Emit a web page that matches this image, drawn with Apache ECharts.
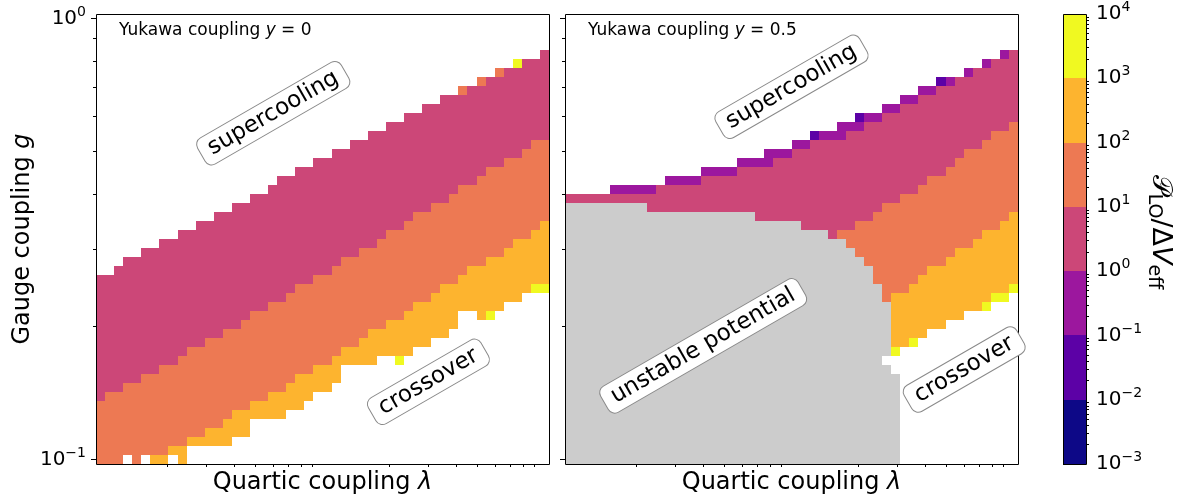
<!DOCTYPE html>
<html><head><meta charset="utf-8">
<script src="https://cdn.jsdelivr.net/npm/echarts@6/dist/echarts.min.js"></script>
<style>html,body{margin:0;padding:0;background:#fff}#c{width:1181px;height:499px}</style>
</head><body><div id="c"></div>
<script>
// ---------- scan grid (50 log-spaced points per axis) ----------
const lambdaRange = [1e-3, 1e-1];
const gRange = [0.1, 1];
const nLambda = 50, nG = 50;

// ---------- colour levels of P_LO / dV_eff ----------
const levelEdges = [1e-3, 1e-2, 1e-1, 1, 1e1, 1e2, 1e3, 1e4];
const levelColors = ['#0d0887', '#5c01a6', '#9c179e', '#cc4778', '#ed7953', '#fdb42f', '#f0f921'];
const unstableColor = '#cccccc';

// ---------- panel y = 0 : per lambda column, first row (0 = lowest g) of each band ----------
const L_lo   = [0,0,0,1,0,1,0,0,1,0, 2,2,2,2,2,3,3,5,5,5, 5,6,6,7,8,8,9,11,11,11, 11,12,12,12,12,13,13,14,14,15, 17,17,16,16,17,18,18,19,19,19];
const L_tOr  = [0,0,0,1,0,1,1,1,2,2, 3,3,4,4,5,6,6,7,7,8, 8,9,10,10,11,11,12,13,13,14, 15,15,16,16,17,18,18,19,20,20, 21,22,22,23,23,24,25,25,26,27];
const L_tMag = [7,8,8,9,9,10,10,11,11,12, 13,13,14,14,15,15,16,17,17,18, 18,19,20,20,21,21,22,23,23,24, 24,25,26,26,27,28,28,29,29,30, 31,31,32,33,33,34,34,35,36,36];
const L_hi   = [21,21,22,23,23,24,24,25,25,26, 26,27,27,28,28,29,29,30,30,31, 32,32,33,33,34,34,35,35,36,36, 37,37,38,38,39,39,40,40,41,41, 42,42,43,43,44,44,45,45,45,46];
const L_special = [[40,41,4],[42,42,4],[44,43,4],[46,44,6],[33,11,6],[43,16,6],[48,19,6],[49,19,6]];

// ---------- panel y = 0.5 ----------
const R_gray = [29,29,29,29,29,29,29,29,29,28, 28,28,28,28,28,28,28,28,28,28, 28,27,27,27,27,27,26,26,26,25, 25,24,23,22,20,18,10,0,0,0, 0,0,0,0,0,0,0,0,0,0];
const R_lo   = [29,29,29,29,29,29,29,29,29,28, 28,28,28,28,28,28,28,28,28,28, 28,27,27,27,27,27,26,26,26,25, 25,24,23,22,20,18,12,13,13,14, 15,15,16,16,17,17,17,18,18,19];
const R_tOr  = [29,29,29,29,29,29,29,29,29,28, 28,28,28,28,28,28,28,28,28,28, 28,27,27,27,27,27,26,26,26,25, 25,24,23,22,20,18,19,19,20,21, 22,22,23,24,24,25,26,26,27,28];
const R_tMag = [29,29,29,29,29,29,29,29,29,28, 28,28,28,28,28,28,28,28,28,28, 28,27,27,27,27,27,26,26,26,25, 26,26,27,27,28,29,29,30,30,31, 32,32,33,34,35,35,36,37,37,38];
const R_tPur = [30,30,30,30,30,30,30,30,30,30, 31,31,31,31,31,32,32,32,32,33, 33,33,33,34,34,35,35,36,36,36, 36,37,37,38,38,39,39,40,40,41, 41,42,42,43,43,44,44,45,45,46];
const R_hi   = [30,30,30,30,30,31,31,31,31,31, 31,32,32,32,32,33,33,33,33,34, 34,34,35,35,35,36,36,37,37,37, 38,38,39,39,39,40,40,41,41,42, 42,43,43,43,44,44,45,45,46,46];
const R_special = [[27,36,1],[32,38,1],[41,42,1],[36,12,6],[38,13,6],[46,17,6],[47,18,6],[48,18,6],[49,19,6],[35,11,-1]];

// ---------- ticks ----------
const xMinorTicks = [0.002,0.003,0.004,0.005,0.006,0.007,0.008,0.009,0.02,0.03,0.04,0.05,0.06,0.07,0.08,0.09];
const yMajorTicks = [0.1, 1];
const yMinorTicks = [0.2,0.3,0.4,0.5,0.6,0.7,0.8,0.9];
const cbarMajorTicks = [1e-3,1e-2,1e-1,1,1e1,1e2,1e3,1e4];
const minorMantissas = [2,3,4,5,6,7,8,9];

// ---------- annotations ----------
const panelTitles = ['Yukawa coupling {i|y} = 0', 'Yukawa coupling {i|y} = 0.5'];
const annoLeft  = [['supercooling', 0.0060, 0.61], ['crossover', 0.030, 0.150]];
const annoRight = [['supercooling', 0.0100, 0.70], ['unstable potential', 0.0040, 0.181], ['crossover', 0.060, 0.160]];

const F = 'DejaVu Sans';
const logEdge = (range, n, k) => {
  const a = Math.log10(range[0]), b = Math.log10(range[1]);
  const d = (b - a) / (n - 1);
  return Math.pow(10, a + (k - 0.5) * d);
};
const xMin = logEdge(lambdaRange, nLambda, 0), xMax = logEdge(lambdaRange, nLambda, nLambda);
const yMin = logEdge(gRange, nG, 0), yMax = logEdge(gRange, nG, nG);

function buildCells(p) {
  const cells = [];
  for (let i = 0; i < nLambda; i++) {
    const col = [];
    const gray = p.gray ? p.gray[i] : 0;
    const tPur = p.tPur ? p.tPur[i] : p.hi[i];
    for (let j = 0; j < nG; j++) {
      let v = -1;
      if (j < gray) v = 7;
      else if (j < p.lo[i]) v = -1;
      else if (j < p.tOr[i]) v = 5;
      else if (j < p.tMag[i]) v = 4;
      else if (j < tPur) v = 3;
      else if (j < p.hi[i]) v = 2;
      col.push(v);
    }
    p.special.forEach(s => { if (s[0] === i) col[s[1]] = s[2]; });
    let j = 0;
    while (j < nG) {
      if (col[j] < 0) { j++; continue; }
      let k = j;
      while (k + 1 < nG && col[k + 1] === col[j]) k++;
      cells.push([logEdge(lambdaRange, nLambda, i), logEdge(lambdaRange, nLambda, i + 1),
                  logEdge(gRange, nG, j), logEdge(gRange, nG, k + 1), col[j]]);
      j = k + 1;
    }
  }
  return cells;
}
const leftCells = buildCells({lo: L_lo, tOr: L_tOr, tMag: L_tMag, hi: L_hi, special: L_special});
const rightCells = buildCells({gray: R_gray, lo: R_lo, tOr: R_tOr, tMag: R_tMag, tPur: R_tPur, hi: R_hi, special: R_special});
const cbarCells = levelColors.map((c, k) => [0, 1, levelEdges[k], levelEdges[k + 1], k]);
const cbarMinor = [];
for (let e = -3; e < 4; e++) minorMantissas.forEach(m => cbarMinor.push(m * Math.pow(10, e)));

function renderCell(params, api) {
  const a = api.coord([api.value(0), api.value(2)]);
  const b = api.coord([api.value(1), api.value(3)]);
  const x0 = Math.round(Math.min(a[0], b[0])), x1 = Math.round(Math.max(a[0], b[0]));
  const y0 = Math.round(Math.min(a[1], b[1])), y1 = Math.round(Math.max(a[1], b[1]));
  const k = api.value(4);
  return {type: 'rect', shape: {x: x0, y: y0, width: x1 - x0, height: y1 - y0},
          style: {fill: k === 7 ? unstableColor : levelColors[k]}};
}
function renderFrame(params) {
  const cs = params.coordSys;
  return {type: 'rect', shape: {x: cs.x + 0.5, y: cs.y + 0.5, width: cs.width, height: cs.height},
          style: {fill: 'none', stroke: '#000', lineWidth: 1}};
}
function annoSeries(list, xi, yi) {
  return {
    type: 'custom', xAxisIndex: xi, yAxisIndex: yi, clip: false, z: 20, silent: true,
    data: list.map((a, idx) => [a[1], a[2], idx]),
    encode: {x: 0, y: 1},
    renderItem: (params, api) => {
      const p = api.coord([api.value(0), api.value(1)]);
      return {type: 'text', x: p[0], y: p[1], rotation: Math.PI / 6,
        style: {text: list[api.value(2)][0], fontSize: 23, fontFamily: F, fill: '#000',
          align: 'center', verticalAlign: 'middle', backgroundColor: '#fff',
          borderColor: '#8a8a8a', borderWidth: 1, borderRadius: 7, padding: [3, 9, 3, 9]}};
    }
  };
}
const expLabel = v => {
  const e = Math.round(Math.log10(v));
  return '{b|10}{s|' + (e < 0 ? '\u2212' + (-e) : String(e)) + '}';
};
const tickRich = {
  b: {fontSize: 20, fontFamily: F, color: '#000'},
  s: {fontSize: 14, fontFamily: F, color: '#000', padding: [0, 0, 13, 0]}
};
const noSplit = {show: false};
function xAxisFor(gi) {
  return {gridIndex: gi, type: 'log', min: xMin, max: xMax, axisLine: {show: false},
    axisTick: {show: true, customValues: xMinorTicks, length: 3, lineStyle: {color: '#000', width: 1}},
    axisLabel: {show: false}, splitLine: noSplit, minorTick: {show: false},
    name: 'Quartic coupling {i|\u03bb}', nameLocation: 'middle', nameGap: 7,
    nameTextStyle: {fontSize: 24, fontFamily: F, color: '#000', verticalAlign: 'top',
      rich: {i: {fontSize: 24, fontFamily: F, fontStyle: 'italic', color: '#000'}}}};
}
function yMajor(gi, labels) {
  const ax = {gridIndex: gi, type: 'log', min: yMin, max: yMax, position: 'left', axisLine: {show: false},
    axisTick: {show: true, customValues: yMajorTicks, length: 5, lineStyle: {color: '#000', width: 1}},
    axisLabel: labels ? {show: true, customValues: yMajorTicks, formatter: expLabel, rich: tickRich, margin: 10} : {show: false},
    splitLine: noSplit};
  if (labels) {
    ax.name = 'Gauge coupling {i|g}';
    ax.nameLocation = 'middle';
    ax.nameGap = 61;
    ax.nameTextStyle = {fontSize: 24, fontFamily: F, color: '#000',
      rich: {i: {fontSize: 24, fontFamily: F, fontStyle: 'italic', color: '#000'}}};
  }
  return ax;
}
function yMinor(gi) {
  return {gridIndex: gi, type: 'log', min: yMin, max: yMax, position: 'left', axisLine: {show: false},
    axisTick: {show: true, customValues: yMinorTicks, length: 3, lineStyle: {color: '#000', width: 1}},
    axisLabel: {show: false}, splitLine: noSplit};
}

const option = {
  animation: false,
  backgroundColor: '#fff',
  textStyle: {fontFamily: F},
  grid: [
    {left: 96, top: 14, width: 453, height: 450, outerBoundsMode: 'none'},
    {left: 565, top: 14, width: 453, height: 450, outerBoundsMode: 'none'},
    {left: 1063, top: 14, width: 23, height: 450, outerBoundsMode: 'none'}
  ],
  xAxis: [xAxisFor(0), xAxisFor(1), {gridIndex: 2, type: 'value', min: 0, max: 1, show: false}],
  yAxis: [
    yMajor(0, true), yMinor(0), yMajor(1, false), yMinor(1),
    {gridIndex: 2, type: 'log', min: 1e-3, max: 1e4, position: 'right', axisLine: {show: false},
      axisTick: {show: true, customValues: cbarMajorTicks, length: 5, lineStyle: {color: '#000'}},
      axisLabel: {show: true, customValues: cbarMajorTicks, formatter: expLabel, rich: tickRich, margin: 10},
      splitLine: noSplit},
    {gridIndex: 2, type: 'log', min: 1e-3, max: 1e4, position: 'right', axisLine: {show: false},
      axisTick: {show: true, customValues: cbarMinor, length: 3, lineStyle: {color: '#000'}},
      axisLabel: {show: false}, splitLine: noSplit}
  ],
  series: [
    {type: 'custom', xAxisIndex: 0, yAxisIndex: 0, data: leftCells, encode: {x: [0, 1], y: [2, 3]}, renderItem: renderCell, clip: true, z: 2, silent: true},
    {type: 'custom', xAxisIndex: 1, yAxisIndex: 2, data: rightCells, encode: {x: [0, 1], y: [2, 3]}, renderItem: renderCell, clip: true, z: 2, silent: true},
    {type: 'custom', xAxisIndex: 2, yAxisIndex: 4, data: cbarCells, encode: {x: [0, 1], y: [2, 3]}, renderItem: renderCell, clip: true, z: 2, silent: true},
    {type: 'custom', xAxisIndex: 0, yAxisIndex: 0, data: [[xMin, yMin]], encode: {x: 0, y: 1}, renderItem: renderFrame, clip: false, z: 10, silent: true},
    {type: 'custom', xAxisIndex: 1, yAxisIndex: 2, data: [[xMin, yMin]], encode: {x: 0, y: 1}, renderItem: renderFrame, clip: false, z: 10, silent: true},
    {type: 'custom', xAxisIndex: 2, yAxisIndex: 4, data: [[0, 1e-3]], encode: {x: 0, y: 1}, renderItem: renderFrame, clip: false, z: 10, silent: true},
    annoSeries(annoLeft, 0, 0),
    annoSeries(annoRight, 1, 2)
  ],
  graphic: [
    {type: 'text', x: 119, y: 31, z: 30, style: {text: panelTitles[0], fontSize: 17, fontFamily: F, fill: '#000', align: 'left', verticalAlign: 'middle',
      rich: {i: {fontSize: 17, fontFamily: F, fontStyle: 'italic', fill: '#000'}}}},
    {type: 'text', x: 588, y: 31, z: 30, style: {text: panelTitles[1], fontSize: 17, fontFamily: F, fill: '#000', align: 'left', verticalAlign: 'middle',
      rich: {i: {fontSize: 17, fontFamily: F, fontStyle: 'italic', fill: '#000'}}}},
    {type: 'text', x: 1160, y: 232, rotation: -Math.PI / 2, z: 30,
      style: {text: '{p|\u{1D4AB}}{sub|LO}{n|/\u0394}{v|V}{sub|eff}', align: 'center', verticalAlign: 'middle', fill: '#000',
        rich: {
          p: {fontSize: 27, fontFamily: F, fill: '#000'},
          n: {fontSize: 27, fontFamily: F, fill: '#000'},
          v: {fontSize: 27, fontFamily: F, fontStyle: 'italic', fill: '#000'},
          sub: {fontSize: 19, fontFamily: F, fill: '#000', padding: [12, 0, 0, 0]}
        }}}
  ]
};
const chart = echarts.init(document.getElementById('c'), null, {renderer: 'canvas', width: 1181, height: 499});
chart.setOption(option);
</script>
</body></html>
